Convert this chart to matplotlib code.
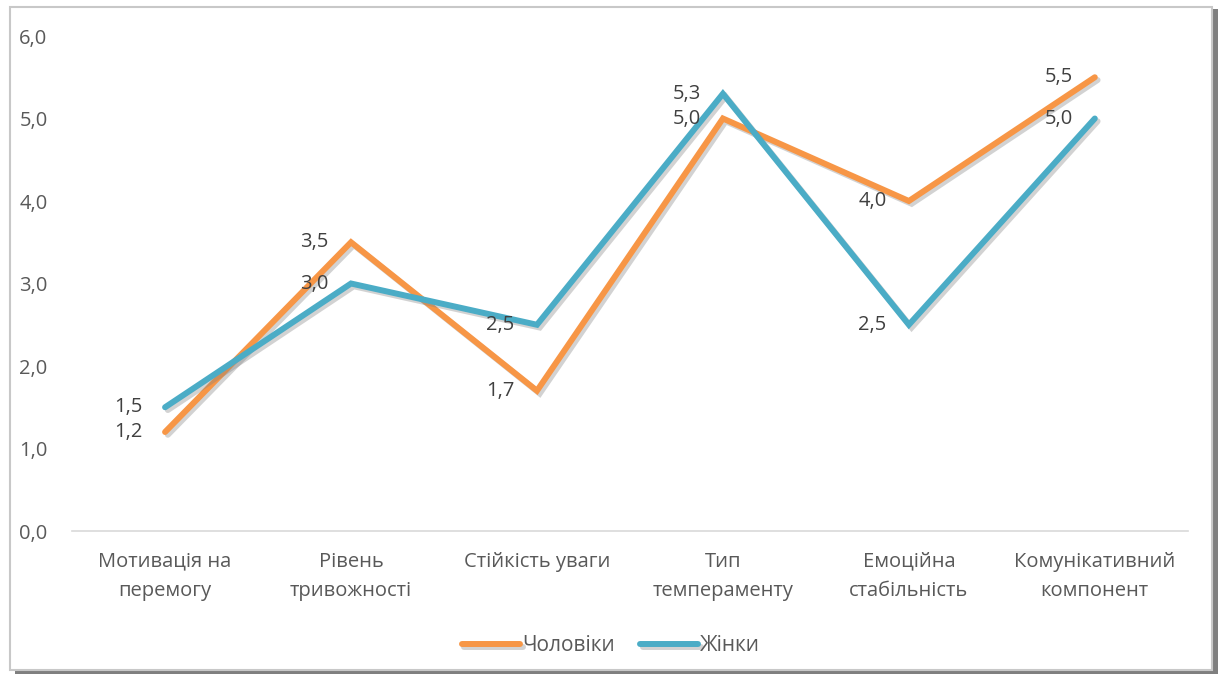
import matplotlib.pyplot as plt
import matplotlib.patheffects as pe
from matplotlib.patches import Rectangle

plt.rcParams['font.family'] = ['Open Sans', 'DejaVu Sans']

categories = ['Мотивація на\nперемогу', 'Рівень\nтривожності', 'Стійкість уваги',
              'Тип\nтемпераменту', 'Емоційна\nстабільність', 'Комунікативний\nкомпонент']
men = [1.2, 3.5, 1.7, 5.0, 4.0, 5.5]
women = [1.5, 3.0, 2.5, 5.3, 2.5, 5.0]
series_names = ['Чоловіки', 'Жінки']
yticks = [0, 1, 2, 3, 4, 5, 6]

orange = '#F79646'
teal = '#4BACC6'
txt = '#595959'

fig = plt.figure(figsize=(12.22, 6.82), dpi=100)

# рамка с тенью
shadow = Rectangle((0.012, 0.012), 0.985, 0.975, transform=fig.transFigure,
                   facecolor='#7f7f7f', edgecolor='none', zorder=-2)
fig.patches.append(shadow)
frame = Rectangle((0.008, 0.018), 0.984, 0.972, transform=fig.transFigure,
                  facecolor='white', edgecolor='#c8c8c8', linewidth=1.5, zorder=-1)
fig.patches.append(frame)

ax = fig.add_axes([0.059, 0.2214, 0.913, 0.7258])
ax.patch.set_alpha(0)
x = list(range(len(categories)))

shadow_fx = [pe.SimpleLineShadow(offset=(2, -2), shadow_color='gray', alpha=0.35), pe.Normal()]
ax.plot(x, men, color=orange, lw=4.3, solid_capstyle='round', solid_joinstyle='miter',
        label=series_names[0], path_effects=shadow_fx, zorder=3)
ax.plot(x, women, color=teal, lw=4.3, solid_capstyle='round', solid_joinstyle='miter',
        label=series_names[1], path_effects=shadow_fx, zorder=4)

for xi, v in zip(x, men):
    ax.annotate(f'{v:.1f}'.replace('.', ','), (xi, v), xytext=(-16, 0), textcoords='offset points',
                ha='right', va='center', fontsize=14.5, color='#404040', zorder=5)
for xi, v in zip(x, women):
    ax.annotate(f'{v:.1f}'.replace('.', ','), (xi, v), xytext=(-16, 0), textcoords='offset points',
                ha='right', va='center', fontsize=14.5, color='#404040', zorder=5)

ax.set_xlim(-0.5, len(categories) - 0.5)
ax.set_ylim(0, 6)
ax.set_yticks(yticks)
ax.set_yticklabels([f'{t:.1f}'.replace('.', ',') for t in yticks])
ax.set_xticks(x)
ax.set_xticklabels(categories, linespacing=1.6)
ax.tick_params(axis='both', length=0, labelsize=14.5, colors=txt)
ax.tick_params(axis='y', pad=38)
ax.tick_params(axis='x', pad=15)
for lab in ax.get_yticklabels():
    lab.set_horizontalalignment('left')
for s in ['top', 'right', 'left']:
    ax.spines[s].set_visible(False)
ax.spines['bottom'].set_color('#d9d9d9')
ax.spines['bottom'].set_linewidth(1.2)

leg = fig.legend(loc='center', bbox_to_anchor=(0.5, 0.053), ncol=2, frameon=False,
                 fontsize=15, handlelength=2.8, handletextpad=0.1, columnspacing=1.2)
for t in leg.get_texts():
    t.set_color(txt)

fig.savefig('out.png', dpi=100)
